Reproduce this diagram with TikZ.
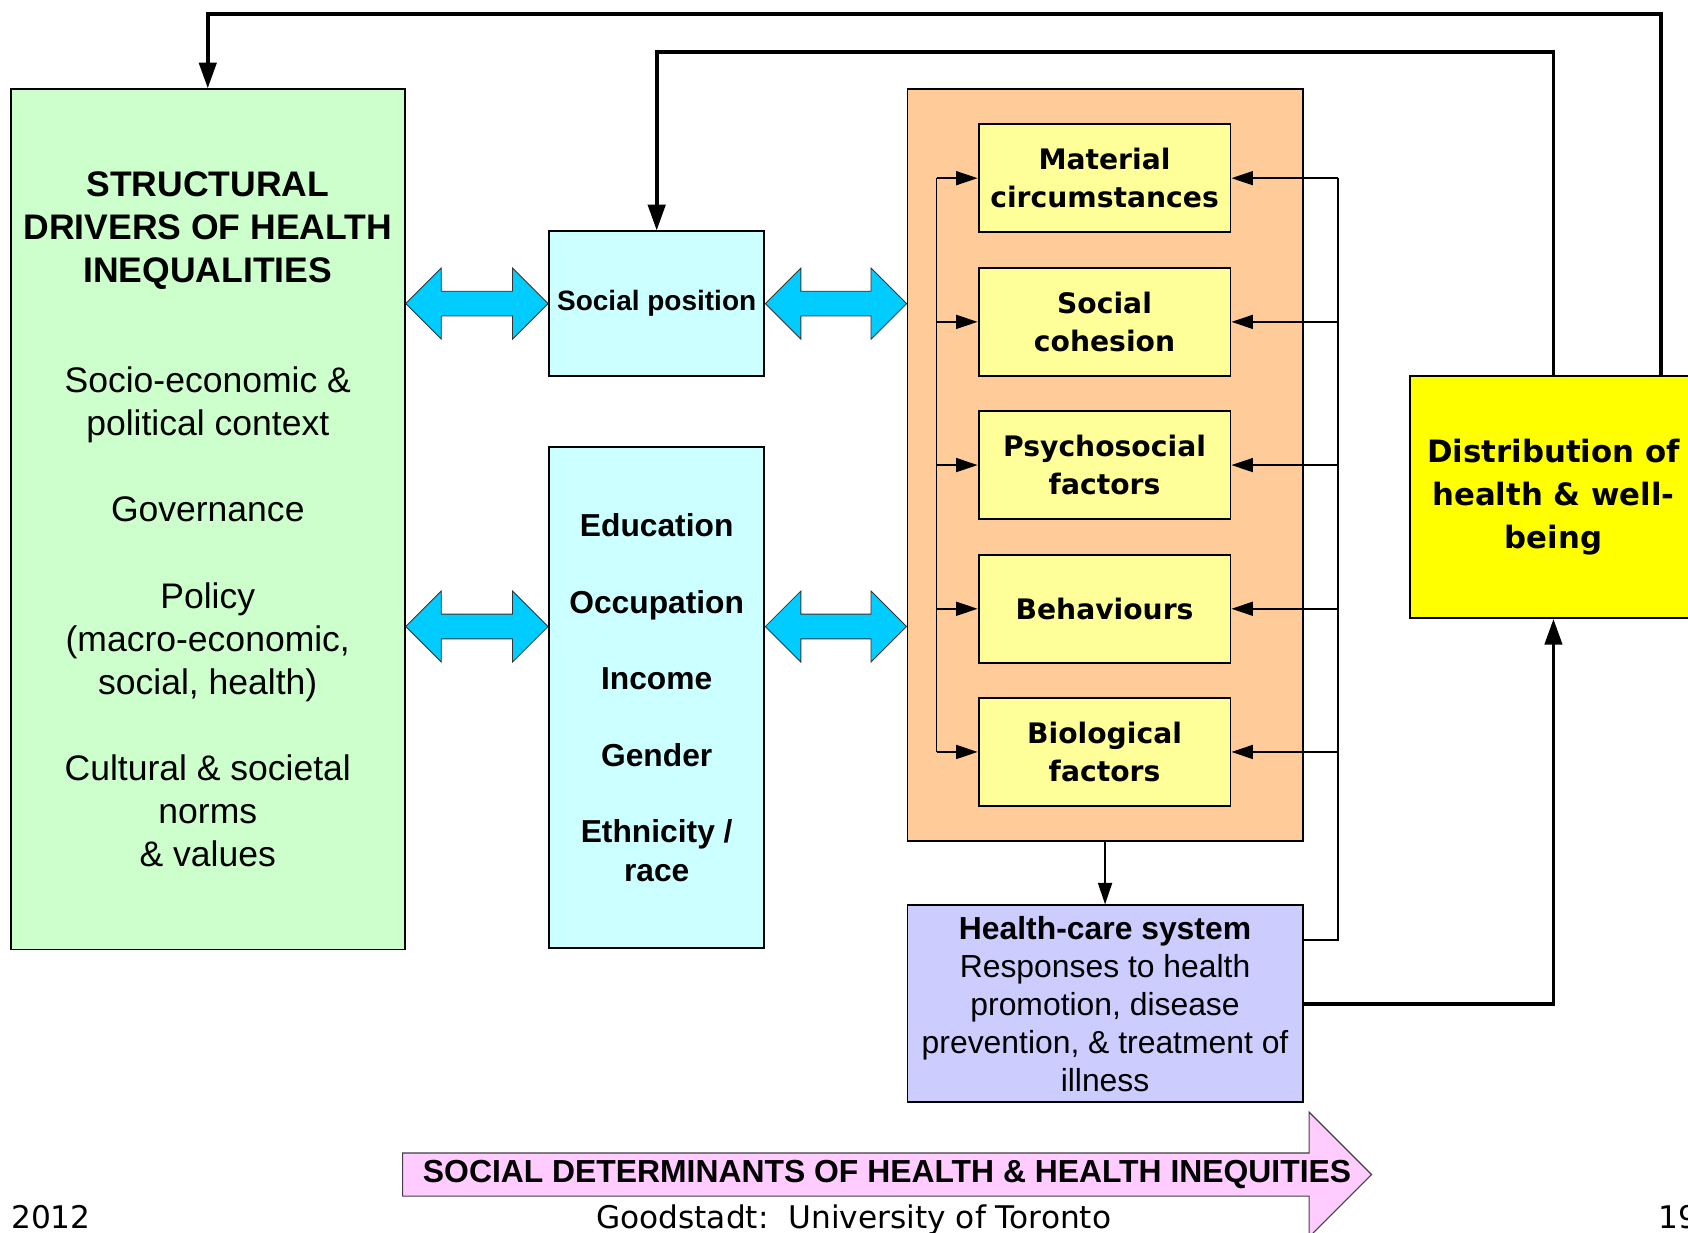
\documentclass[tikz,border=0pt]{standalone}
\usepackage{fontspec}
\setmainfont{Liberation Sans}
\newfontfamily\vfont{DejaVu Sans}
\usetikzlibrary{arrows.meta,calc}
\definecolor{cgreen}{HTML}{CCFFCC}
\definecolor{ccyan}{HTML}{CCFFFF}
\definecolor{carrow}{HTML}{00CCFF}
\definecolor{corange}{HTML}{FFCC99}
\definecolor{cyellow}{HTML}{FFFF99}
\definecolor{cpurple}{HTML}{CCCCFF}
\definecolor{cyel}{HTML}{FFFF00}
\definecolor{cpink}{HTML}{FFCCFF}
\newcommand\dblarw[2]{\draw[dblarr] (#1) -- ($(#1)+(33,-33)$) -- ($(#1)+(33,-11.5)$) -- ($(#2)+(-33,-11.5)$) -- ($(#2)+(-33,-33)$) -- (#2) -- ($(#2)+(-33,33)$) -- ($(#2)+(-33,11.5)$) -- ($(#1)+(33,11.5)$) -- ($(#1)+(33,33)$) -- cycle;}
\begin{document}
\begin{tikzpicture}[x=0.5pt,y=-0.5pt,
  box/.style={draw=black, line width=0.9pt, inner sep=0pt, align=center, text=black},
  ybox/.style={box, fill=cyellow, minimum width=117pt, minimum height=50pt, font=\vfont\bfseries\fontsize{13.1}{17.5}\selectfont},
  thinln/.style={line width=0.8pt},
  thinarr/.style={line width=0.8pt, -{Triangle[length=10pt,width=6.5pt]}},
  thkarr/.style={line width=1.8pt, -{Triangle[length=12pt,width=8pt]}},
  dblarr/.style={draw=black!80, line width=0.4pt, fill=carrow},
  foot/.style={font=\vfont\fontsize{14.5}{17}\selectfont, inner sep=0pt}]
\useasboundingbox (0,0) rectangle (1568,1145);
% boxes
\node[box, fill=cgreen, minimum width=183pt, minimum height=399.5pt, font=\fontsize{16.5}{20}\selectfont] (g) at (193,482.5)
 {\textbf{STRUCTURAL}\\\textbf{DRIVERS OF HEALTH}\\\textbf{INEQUALITIES}\\[31pt]Socio-economic \&\\political context\\[20pt]Governance\\[20pt]Policy\\(macro-economic,\\social, health)\\[20pt]Cultural \& societal\\norms\\\& values};
\node[box, fill=ccyan, minimum width=100pt, minimum height=67pt, font=\bfseries\fontsize{13}{15.6}\selectfont] (sp) at (610,282) {Social position};
\node[box, fill=ccyan, minimum width=100pt, minimum height=233pt, font=\bfseries\fontsize{14.75}{18}\selectfont] (edu) at (610,648)
 {Education\\[17.5pt]Occupation\\[17.5pt]Income\\[17.5pt]Gender\\[17.5pt]Ethnicity /\\race};
\node[box, fill=corange, minimum width=183.5pt, minimum height=349pt] (ob) at (1026.5,432) {};
\node[ybox] (y1) at (1026,165.5) {Material\\circumstances};
\node[ybox] (y2) at (1026,299) {Social\\cohesion};
\node[ybox] (y3) at (1026,432) {Psychosocial\\factors};
\node[ybox] (y4) at (1026,565.5) {Behaviours};
\node[ybox] (y5) at (1026,698.5) {Biological\\factors};
\node[box, fill=cpurple, minimum width=183.5pt, minimum height=91.5pt, font=\fontsize{14.8}{17.6}\selectfont] (hc) at (1026.5,932.5)
 {\textbf{Health-care system}\\Responses to health\\promotion, disease\\prevention, \& treatment of\\illness};
\node[box, fill=cyel, minimum width=133pt, minimum height=112.5pt, font=\vfont\bfseries\fontsize{14.3}{20}\selectfont] (dist) at (1443,461.5)
 {Distribution of\\health \& well-\\being};
% double arrows
\coordinate (ly) at (0,582);
\dblarw{g.east |- sp.west}{sp.west}
\dblarw{sp.east}{ob.west |- sp.east}
\dblarw{g.east |- ly}{edu.west |- ly}
\dblarw{edu.east |- ly}{ob.west |- ly}
% left bus
\coordinate (lb) at (870,0);
\draw[thinln] (lb |- y1.west) -- (lb |- y5.west);
\foreach \k in {1,...,5} {\draw[thinarr] (lb |- y\k.west) -- (y\k.west);}
% right bus
\coordinate (rb) at (1243,0);
\coordinate (hcr) at ($(hc.north east)+(0,33)$);
\draw[thinln] (hcr) -| (rb |- y1.east);
\foreach \k in {1,...,5} {\draw[thinarr] (rb |- y\k.east) -- (y\k.east);}
% orange to health-care
\draw[thinarr] (ob.south) -- (hc.north);
% thick feedback lines
\coordinate (o1) at (1543,13);
\coordinate (o2) at (1443,48);
\draw[thkarr] (o1 |- dist.north) -- (o1) -| (g.north);
\draw[thkarr] (dist.north) -- (dist.north |- o2) -| (sp.north);
\draw[thkarr] (hc.east) -| (dist.south);
% bottom pink arrow
\draw[fill=cpink, draw=black!75, line width=0.5pt] (374,1071) -- (1216,1071) -- (1216,1033) -- (1274,1091) -- (1216,1149) -- (1216,1111) -- (374,1111) -- cycle;
\node[font=\bfseries\fontsize{14.8}{17}\selectfont, inner sep=0pt] (sdh) at (824,1091) {SOCIAL DETERMINANTS OF HEALTH \& HEALTH INEQUITIES};
% footer
\node[foot, anchor=base west] (yr) at (10,1141) {2012};
\node[foot, anchor=base] (au) at (793,1141) {Goodstadt:\ \ University of Toronto};
\node[foot, anchor=base west] (pg) at (1540,1141) {19};
\end{tikzpicture}
\end{document}
